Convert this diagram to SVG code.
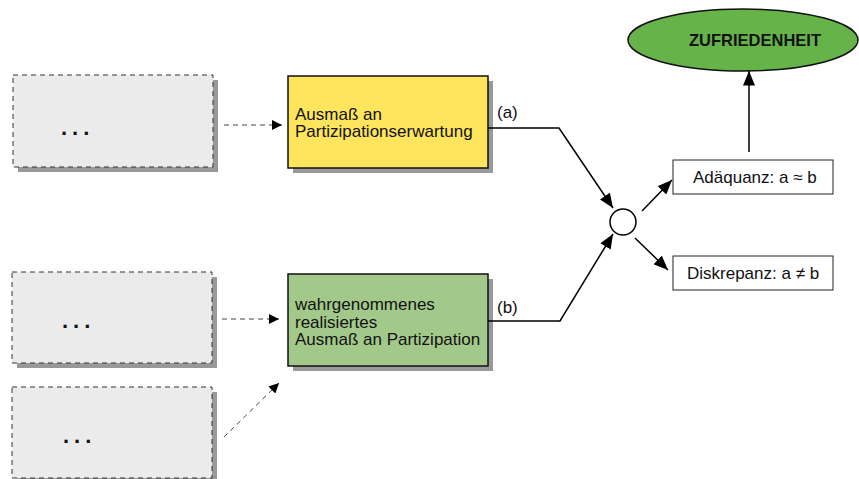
<svg xmlns="http://www.w3.org/2000/svg" width="859" height="479" viewBox="0 0 859 479">
  <defs>
    <marker id="arrow" viewBox="0 0 10 10" refX="10" refY="5" markerWidth="10" markerHeight="10" markerUnits="userSpaceOnUse" orient="auto">
      <path d="M0,0 L10,5 L0,10 z" fill="#000"/>
    </marker>
    <marker id="arrowL" viewBox="0 0 12 10" refX="12" refY="5" markerWidth="15" markerHeight="12" markerUnits="userSpaceOnUse" orient="auto">
      <path d="M0,0 L12,5 L0,10 z" fill="#000"/>
    </marker>
  </defs>
  <style>
    text { font-family: "Liberation Sans", Arial, sans-serif; fill: #111; }
    .lbl { font-size: 17px; }
    .dots { font-size: 22px; letter-spacing: 5px; font-weight: bold; }
    .shadow { fill: #999; }
    .src { fill: #ebebeb; stroke: #333; stroke-width: 1; stroke-dasharray: 5 4; }
    .box { stroke: #111; stroke-width: 1.5; }
    .plain { fill: #fff; stroke: #222; stroke-width: 1; }
    .conn { fill: none; stroke: #000; stroke-width: 1.5; }
    .dash { fill: none; stroke: #444; stroke-width: 1; stroke-dasharray: 5 4; }
  </style>
  <rect width="859" height="479" fill="#fff"/>

  <!-- source placeholders -->
  <g id="source1">
    <rect class="shadow" x="18" y="80" width="200" height="92"/>
    <rect class="src" x="13" y="75" width="200" height="92"/>
    <text class="dots" x="61" y="135">...</text>
  </g>
  <g id="source2">
    <rect class="shadow" x="17" y="277" width="200" height="91"/>
    <rect class="src" x="12" y="272" width="200" height="91"/>
    <text class="dots" x="62" y="328">...</text>
  </g>
  <g id="source3">
    <rect class="shadow" x="17" y="392" width="200" height="91"/>
    <rect class="src" x="12" y="387" width="200" height="91"/>
    <text class="dots" x="63" y="443">...</text>
  </g>

  <!-- expectation -->
  <g id="expectation">
    <rect class="shadow" x="293" y="81" width="200" height="92"/>
    <rect class="box" x="288" y="76" width="200" height="92" fill="#ffe45e"/>
    <text class="lbl" x="295" y="119.5">Ausmaß an<tspan x="295" dy="17.5">Partizipationserwartung</tspan></text>
  </g>

  <!-- perceived participation -->
  <g id="perceived">
    <rect class="shadow" x="293" y="279" width="200" height="92"/>
    <rect class="box" x="288" y="274" width="200" height="92" fill="#a3c98a"/>
    <text class="lbl" x="295" y="310">wahrgenommenes<tspan x="295" dy="17.5">realisiertes</tspan><tspan x="295" dy="17.5">Ausmaß an Partizipation</tspan></text>
  </g>

  <!-- comparison point -->
  <g id="compare">
    <circle cx="623" cy="222" r="13" fill="#fff" stroke="#000" stroke-width="1.5"/>
  </g>

  <!-- outcomes -->
  <g id="adequacy">
    <rect class="plain" x="673" y="160" width="160" height="34"/>
    <text class="lbl" x="693" y="183">Adäquanz: a ≈ b</text>
  </g>
  <g id="discrepancy">
    <rect class="plain" x="673" y="256" width="160" height="34"/>
    <text class="lbl" x="687" y="279">Diskrepanz: a ≠ b</text>
  </g>

  <g id="satisfaction">
    <ellipse cx="743" cy="40" rx="115" ry="31" fill="#66b34a" stroke="#111" stroke-width="1.5"/>
    <text x="755" y="46" text-anchor="middle" font-size="16.5" font-weight="bold">ZUFRIEDENHEIT</text>
  </g>

  <!-- connectors -->
  <g id="connectors">
    <line class="dash" x1="224" y1="125" x2="282" y2="125" marker-end="url(#arrow)"/>
    <line class="dash" x1="222" y1="319" x2="279" y2="319" marker-end="url(#arrow)"/>
    <line class="dash" x1="224" y1="437" x2="279" y2="383" marker-end="url(#arrow)"/>

    <polyline class="conn" points="488,128 559,128 613,208" marker-end="url(#arrowL)"/>
    <polyline class="conn" points="488,321 560,321 613,234" marker-end="url(#arrowL)"/>
    <line class="conn" x1="642" y1="211" x2="672" y2="180" marker-end="url(#arrowL)"/>
    <line class="conn" x1="635" y1="238" x2="668" y2="270" marker-end="url(#arrowL)"/>
    <line class="conn" x1="749" y1="152" x2="749" y2="71" marker-end="url(#arrowL)"/>

    <text class="lbl" x="497" y="118" font-size="16">(a)</text>
    <text class="lbl" x="497" y="313" font-size="16">(b)</text>
  </g>
</svg>
